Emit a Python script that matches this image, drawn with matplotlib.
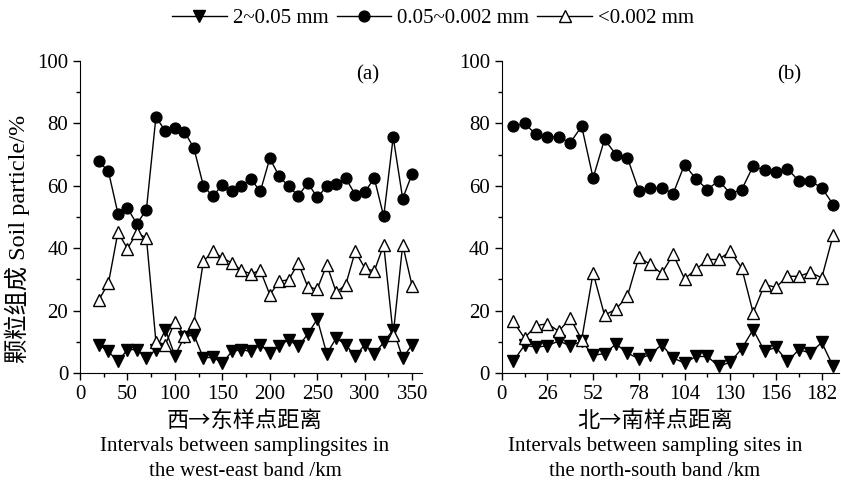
import numpy as np
from matplotlib import pyplot as plt
from matplotlib.ticker import MultipleLocator

plt.rcParams['font.family'] = ['Liberation Serif', 'Noto Sans CJK SC']
plt.rcParams['mathtext.fontset'] = 'stix'

# west-east band, sites every 10 km
we_dist = np.arange(20, 351, 10)
we_sand = [9.1, 6.9, 3.7, 7.5, 7.5, 4.8, 7.5, 13.9, 5.6, 11.5,
           12.3, 4.8, 5.1, 3.2, 6.9, 7.5, 6.9, 9.1, 6.4, 8.8,
           10.7, 8.5, 12.5, 17.3, 6.2, 11.2, 9.1, 5.3, 9.1, 6.2,
           9.8, 13.9, 4.8, 9.1]
we_silt = [67.8, 64.6, 51.1, 52.8, 47.8, 52.4, 82.0, 77.6, 78.4, 77.4,
           72.1, 60.0, 56.6, 60.4, 58.2, 60.0, 62.2, 58.2, 68.8, 63.0,
           59.8, 56.8, 60.9, 56.3, 59.8, 60.6, 62.4, 57.2, 57.9, 62.5,
           50.2, 75.6, 55.9, 63.9]
we_clay = [23.5, 28.8, 45.1, 39.9, 44.9, 43.3, 10.1, 9.1, 16.5, 12.0,
           16.0, 35.8, 39.0, 36.9, 35.3, 32.9, 31.8, 32.9, 25.1, 29.4,
           29.9, 35.3, 27.6, 26.9, 34.7, 25.9, 28.3, 39.0, 33.7, 32.6,
           41.1, 12.3, 41.1, 27.8]

# north-south band, sites every 6.5 km
ns_dist = np.arange(1, 30) * 6.5
ns_sand = [3.7, 8.9, 8.3, 8.7, 10.3, 8.7, 10.2, 5.7, 6.2, 9.3,
           6.4, 4.6, 5.9, 9.1, 4.8, 3.2, 5.3, 5.3, 2.1, 3.5,
           7.8, 13.9, 7.0, 8.2, 3.7, 7.5, 6.4, 9.8, 2.1]
ns_silt = [79.1, 80.0, 76.5, 75.7, 75.6, 73.8, 79.1, 62.5, 74.9, 70.0,
           69.0, 58.5, 59.2, 59.4, 57.5, 66.8, 62.2, 58.8, 61.7, 57.5,
           58.8, 66.3, 65.0, 64.4, 65.5, 61.5, 61.5, 59.4, 54.0]
ns_clay = [16.6, 11.2, 15.2, 15.8, 13.4, 17.6, 10.7, 32.1, 18.5, 20.5,
           24.6, 37.2, 34.8, 31.9, 38.0, 30.2, 33.2, 36.4, 36.4, 39.0,
           33.7, 19.3, 28.3, 27.5, 31.0, 31.0, 32.3, 30.5, 44.2]

labels = ['2~0.05 mm', '0.05~0.002 mm', '<0.002 mm']

fig = plt.figure(figsize=(8.41, 4.84), dpi=100)
ax1 = fig.add_axes([0.0951, 0.2293, 0.4063, 0.6446])
ax2 = fig.add_axes([0.5965, 0.2293, 0.4015, 0.6446])


def draw(ax, x, sand, silt, clay):
    h1, = ax.plot(x, sand, color='k', lw=1, marker='v', ms=8.5,
                  mfc='k', mec='k', label=labels[0])
    h2, = ax.plot(x, silt, color='k', lw=1, marker='o', ms=7.8,
                  mfc='k', mec='k', label=labels[1])
    h3, = ax.plot(x, clay, color='k', lw=1, marker='^', ms=8.5,
                  mfc='white', mec='k', label=labels[2])
    ax.set_ylim(0, 100)
    ax.yaxis.set_major_locator(MultipleLocator(20))
    ax.yaxis.set_minor_locator(MultipleLocator(10))
    for s in ['top', 'right']:
        ax.spines[s].set_visible(False)
    ax.tick_params(which='major', direction='out', length=5, width=1, labelsize=15)
    ax.tick_params(which='minor', direction='out', length=3, width=1)
    return [h1, h2, h3]


def xtitle(xc, cn, en1, en2):
    # three-line axis title under each panel
    fig.text(xc / 841, 1 - 420 / 484, cn, ha='center', va='center',
             fontsize=16, family=['Noto Sans CJK SC'])
    fig.text(xc / 841, 1 - 447 / 484, en1, ha='center', va='center', fontsize=15)
    fig.text(xc / 841, 1 - 472 / 484, en2, ha='center', va='center', fontsize=15)


handles = draw(ax1, we_dist, we_sand, we_silt, we_clay)
ax1.set_xlim(0, 360)
ax1.xaxis.set_major_locator(MultipleLocator(50))
ax1.xaxis.set_minor_locator(MultipleLocator(25))
ax1.text(0.843, 0.955, '(a)', transform=ax1.transAxes, ha='center', va='center', fontsize=15)
ax1.set_ylabel('颗粒组成 Soil particle/%', fontsize=17.5)
ax1.yaxis.set_label_coords(-0.145, 0.43)
xtitle(245, '西→东样点距离', 'Intervals between samplingsites in', 'the west-east band /km')

draw(ax2, ns_dist, ns_sand, ns_silt, ns_clay)
ax2.set_xlim(0, 192)
ax2.xaxis.set_major_locator(MultipleLocator(26))
ax2.xaxis.set_minor_locator(MultipleLocator(13))
ax2.text(0.853, 0.955, '(b)', transform=ax2.transAxes, ha='center', va='center', fontsize=15)
xtitle(655, '北→南样点距离', 'Intervals between sampling sites in', 'the north-south band /km')

fig.legend(handles=handles, loc='center', bbox_to_anchor=(0.515, 0.962), ncol=3,
           frameon=False, fontsize=15, handlelength=2.6, handletextpad=0.3,
           columnspacing=0.4, borderaxespad=0)

fig.savefig('out.png', dpi=100)
